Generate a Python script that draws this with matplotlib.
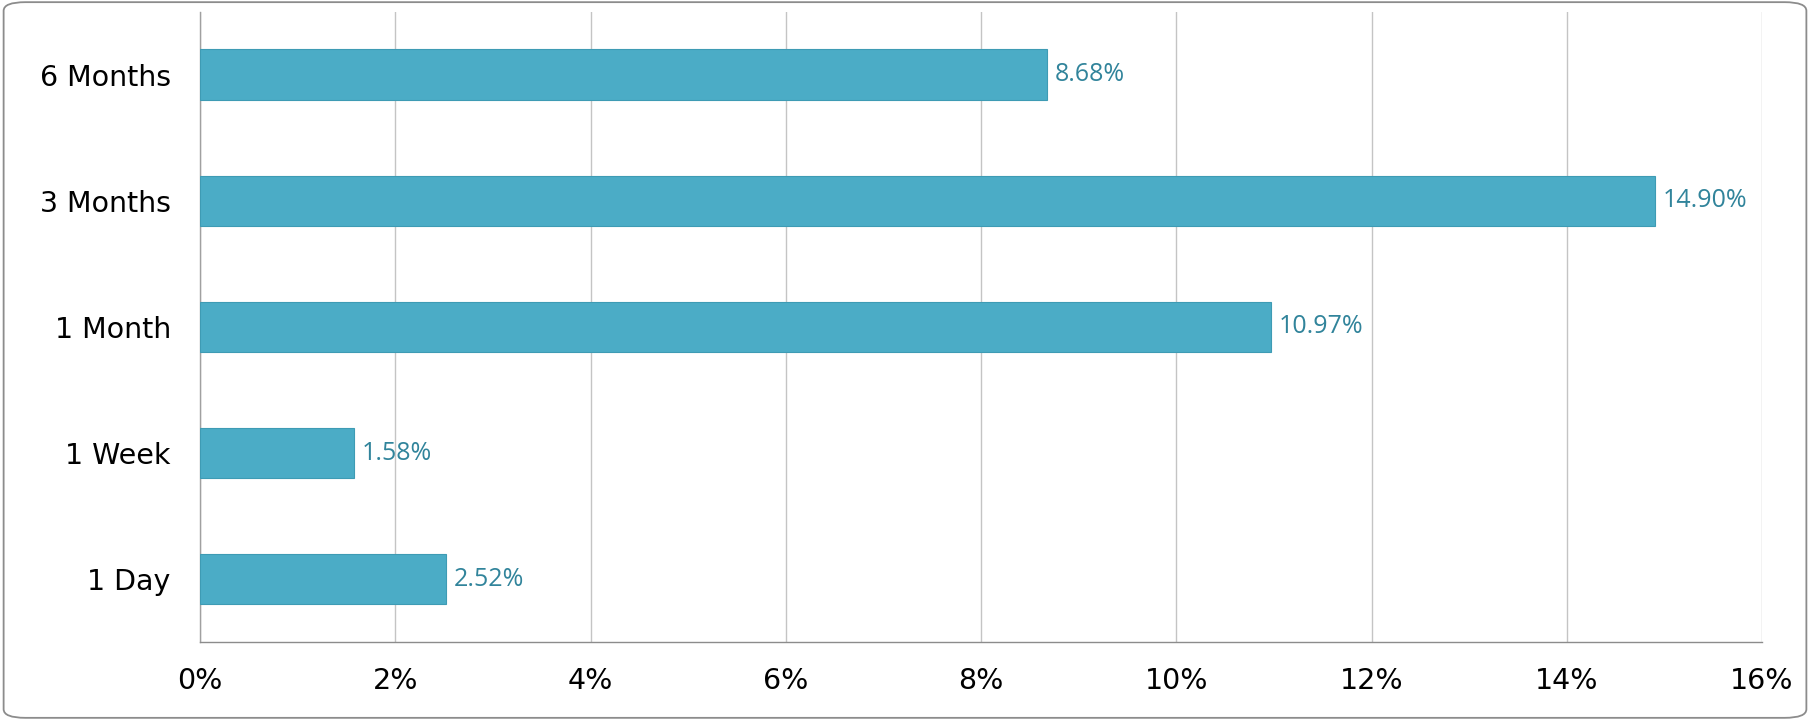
import matplotlib.pyplot as plt
from matplotlib.patches import FancyBboxPatch

# periods, bottom to top
periods = ["1 Day", "1 Week", "1 Month", "3 Months", "6 Months"]
returns = [2.52, 1.58, 10.97, 14.90, 8.68]
xticks = [0, 2, 4, 6, 8, 10, 12, 14, 16]

bar_col = "#4BACC6"
lab_col = "#31849B"

fig = plt.figure(figsize=(18.1, 7.2), dpi=100)
ax = fig.add_axes([0.1105, 0.108, 0.8630, 0.876])

# rounded outer frame
frame = FancyBboxPatch((0.002, 0.003), 0.996, 0.994,
                       boxstyle="round,pad=0,rounding_size=0.012",
                       transform=fig.transFigure, fill=False,
                       edgecolor="#8C8C8C", linewidth=1.3, zorder=0)
fig.patches.append(frame)

ypos = range(len(periods))
ax.barh(ypos, returns, height=0.4, color=bar_col, edgecolor="#3E9BB4",
        linewidth=0.8, zorder=3)

for y, v in zip(ypos, returns):
    ax.text(v + 0.08, y, "%.2f%%" % v, va="center", ha="left",
            color=lab_col, fontsize=18, family="Open Sans", zorder=4)

ax.set_xlim(0, 16)
ax.set_ylim(-0.5, len(periods) - 0.5)
ax.set_xticks(xticks)
ax.set_xticklabels(["%d%%" % t for t in xticks], fontsize=20.5,
                   family="DejaVu Sans")
ax.set_yticks(list(ypos))
ax.set_yticklabels(periods, fontsize=20.5, family="DejaVu Sans")
ax.tick_params(axis="both", length=0)
ax.tick_params(axis="y", pad=21)
ax.tick_params(axis="x", pad=18)

ax.grid(axis="x", color="#C4C4C4", linewidth=1.0, zorder=0)
ax.set_axisbelow(True)
for s in ["top", "right"]:
    ax.spines[s].set_visible(False)
ax.spines["left"].set_color("#A0A0A0")
ax.spines["bottom"].set_color("#8C8C8C")
ax.spines["left"].set_linewidth(1.0)
ax.spines["bottom"].set_linewidth(1.0)

fig.savefig("out.png", dpi=100)
